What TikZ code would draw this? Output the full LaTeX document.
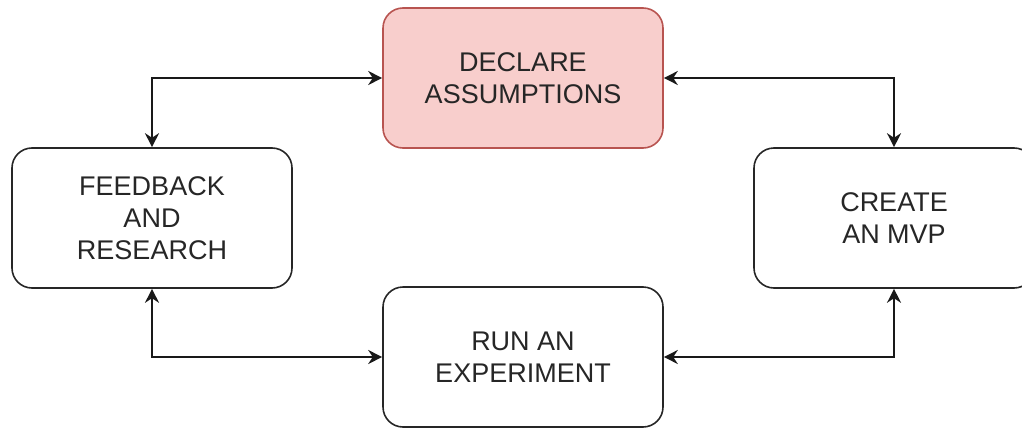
\documentclass[tikz,border=0pt]{standalone}
\usepackage{fontspec}
\setmainfont{Liberation Sans}
\usetikzlibrary{arrows.meta}
\definecolor{pinkfill}{HTML}{F8CECC}
\definecolor{pinkborder}{HTML}{B85450}
\begin{document}
\begin{tikzpicture}[x=1pt,y=-1pt,
  box/.style={draw=black!85, line width=1.6pt, rounded corners=20pt,
    minimum width=280pt, minimum height=140pt, align=center,
    font=\fontsize{27}{32}\selectfont, text=black!85, inner sep=0pt},
  link/.style={line width=1.8pt, draw=black!90,
    {Stealth[length=14pt,width=14pt]}-{Stealth[length=14pt,width=14pt]}}]
\useasboundingbox (0,0) rectangle (1022,428);
\clip (0,0) rectangle (1022,428);
\node[box, fill=pinkfill, draw=pinkborder] (declare) at (523,78) {DECLARE\\ASSUMPTIONS};
\node[box] (feedback) at (152,218) {FEEDBACK\\AND\\RESEARCH};
\node[box] (mvp) at (894,218) {CREATE\\AN MVP};
\node[box] (run) at (523,357) {RUN AN\\EXPERIMENT};
\draw[link] (declare.west) -| (feedback.north);
\draw[link] (declare.east) -| (mvp.north);
\draw[link] (feedback.south) |- (run.west);
\draw[link] (mvp.south) |- (run.east);
\end{tikzpicture}
\end{document}
